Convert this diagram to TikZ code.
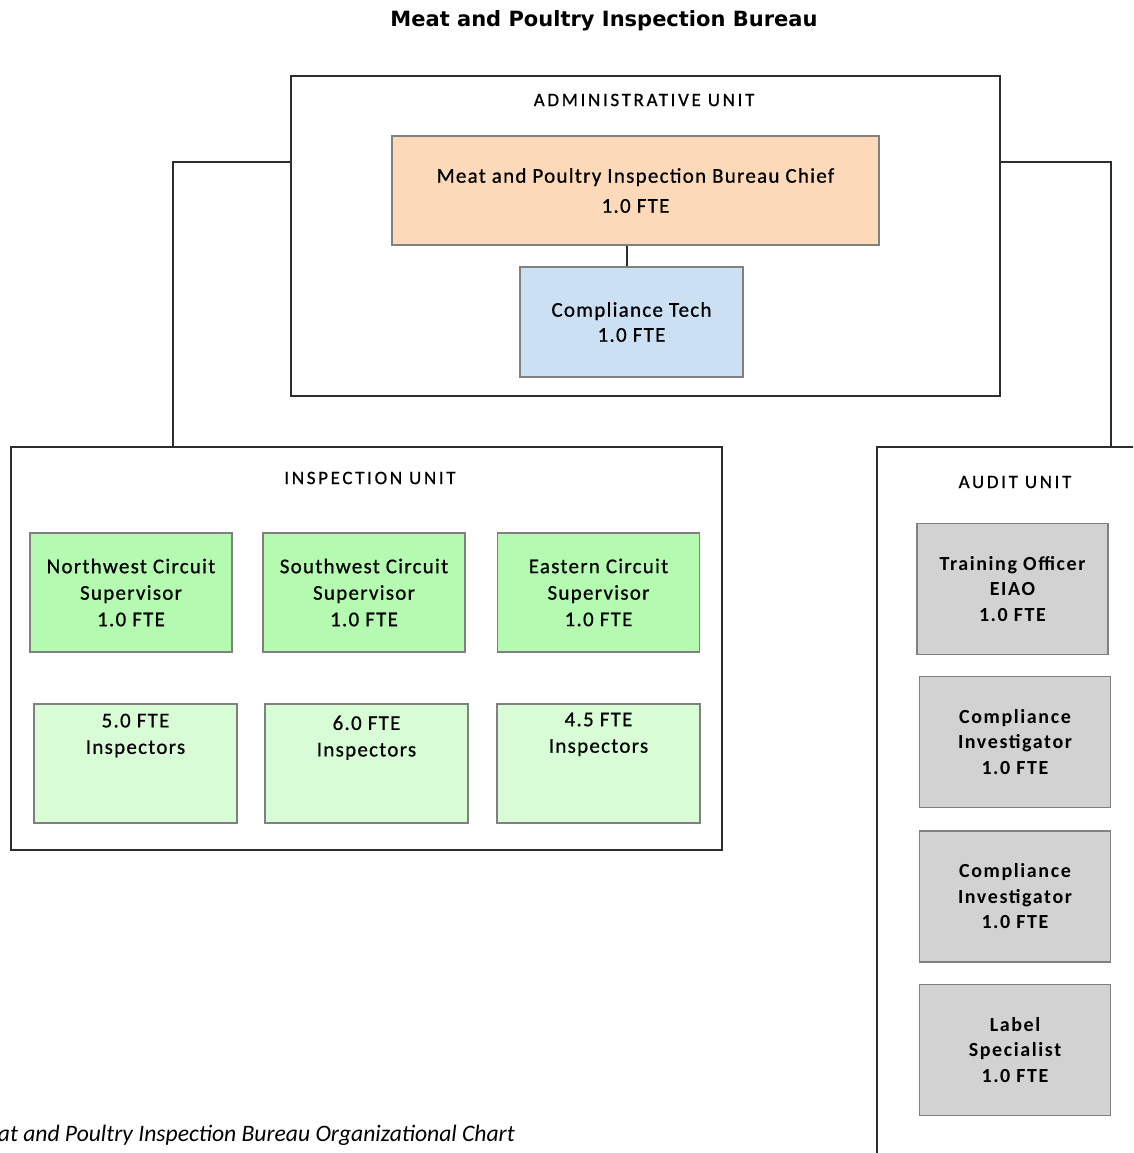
\documentclass[tikz,border=0pt]{standalone}
\usepackage{fontspec}
\setmainfont{Carlito}
\newfontfamily\titlefont{DejaVu Sans}
\newfontfamily\boxfont{Carlito}[LetterSpace=6,FakeBold=0.7]
\newfontfamily\unitfont{Carlito}[LetterSpace=14,FakeBold=0.7]
\newfontfamily\auditfont{Carlito}[LetterSpace=8]
\definecolor{peach}{RGB}{251,217,185}
\definecolor{ltblue}{RGB}{204,224,244}
\definecolor{supgreen}{RGB}{180,250,176}
\definecolor{insgreen}{RGB}{216,252,213}
\definecolor{boxgray}{RGB}{210,210,210}
\definecolor{edgegray}{RGB}{128,128,128}
\definecolor{linedark}{RGB}{45,45,45}
\tikzset{
  unitbox/.style={draw=linedark, line width=2.2pt, fill=white, inner sep=0pt},
  orgbox/.style={draw=edgegray, line width=1.6pt, inner sep=0pt, align=center,
                 font=\boxfont\fontsize{21}{26.5}\selectfont},
  auditbox/.style={orgbox, fill=boxgray, minimum width=191pt, minimum height=131pt,
                 font=\auditfont\bfseries\fontsize{20}{25.5}\selectfont},
  supbox/.style={orgbox, fill=supgreen, minimum width=202pt, minimum height=119pt},
  insbox/.style={orgbox, fill=insgreen, minimum width=203pt, minimum height=119pt},
  instext/.style={anchor=north, align=center, font=\boxfont\fontsize{21}{26.5}\selectfont},
  unittitle/.style={font=\unitfont\fontsize{19}{22}\selectfont, inner sep=0pt},
  conn/.style={draw=linedark, line width=2.2pt}
}
\begin{document}
\begin{tikzpicture}[x=1pt,y=-1pt]
\useasboundingbox (0,0) rectangle (1133,1153);
\clip (0,0) rectangle (1133,1153);
\fill[white] (0,0) rectangle (1133,1153);

% title
\node[font=\titlefont\bfseries\fontsize{21}{24}\selectfont, inner sep=0pt] (title) at (604,21) {Meat and Poultry Inspection Bureau};

% administrative unit
\node[unitbox, minimum width=709pt, minimum height=320pt] (admin) at (645.5,236) {};
\node[unittitle] (admint) at (644,100) {ADMINISTRATIVE UNIT};
\node[orgbox, fill=peach, minimum width=487pt, minimum height=109pt, font=\boxfont\fontsize{21}{30}\selectfont] (chief) at (635.5,190.5) {Meat and Poultry Inspection Bureau Chief\\1.0 FTE};
\node[orgbox, fill=ltblue, minimum width=223pt, minimum height=110pt, font=\boxfont\fontsize{21}{25}\selectfont] (tech) at (631.5,322) {Compliance Tech\\1.0 FTE};
\draw[conn, line width=2pt] (chief.south -| 627,0) -- (tech.north -| 627,0);

% inspection unit
\node[unitbox, minimum width=711pt, minimum height=403pt] (insp) at (366.5,648.5) {};
\node[unittitle] (inspt) at (370,478) {INSPECTION UNIT};
\node[supbox] (s1) at (131,592.5) {Northwest Circuit\\Supervisor\\1.0 FTE};
\node[supbox] (s2) at (364,592.5) {Southwest Circuit\\Supervisor\\1.0 FTE};
\node[supbox] (s3) at (598.5,592.5) {Eastern Circuit\\Supervisor\\1.0 FTE};
\node[insbox, label={[instext, yshift=-7pt]north:5.0 FTE\\Inspectors}] (i1) at (135.5,763.5) {};
\node[insbox, label={[instext, yshift=-9pt]north:6.0 FTE\\Inspectors}] (i2) at (366.5,763.5) {};
\node[insbox, label={[instext, yshift=-6pt]north:4.5 FTE\\Inspectors}] (i3) at (598.5,763.5) {};

% audit unit (runs off the page)
\node[unitbox, minimum width=430pt, minimum height=860pt, anchor=north west] (audit) at (876,446) {};
\node[unittitle] (auditt) at (1015,482) {AUDIT UNIT};
\node[auditbox] (a1) at (1012.5,589) {Training Officer\\EIAO\\1.0 FTE};
\node[auditbox] (a2) at (1015,742) {Compliance\\Investigator\\1.0 FTE};
\node[auditbox] (a3) at (1015,896.5) {Compliance\\Investigator\\1.0 FTE};
\node[auditbox] (a4) at (1015,1050) {Label\\Specialist\\1.0 FTE};

% connectors
\coordinate (jl) at (173,162);
\coordinate (jr) at (1111,162);
\draw[conn] (admin.west |- jl) -- (jl) -- (jl |- insp.north);
\draw[conn] (admin.east |- jr) -- (jr) -- (jr |- audit.north);

% caption (cut by the left edge, as in the reference)
\node[font=\itshape\fontsize{23.6}{28}\selectfont, anchor=base east, inner sep=0pt] (caption) at (515,1141) {Meat and Poultry Inspection Bureau Organizational Chart};
\end{tikzpicture}
\end{document}
